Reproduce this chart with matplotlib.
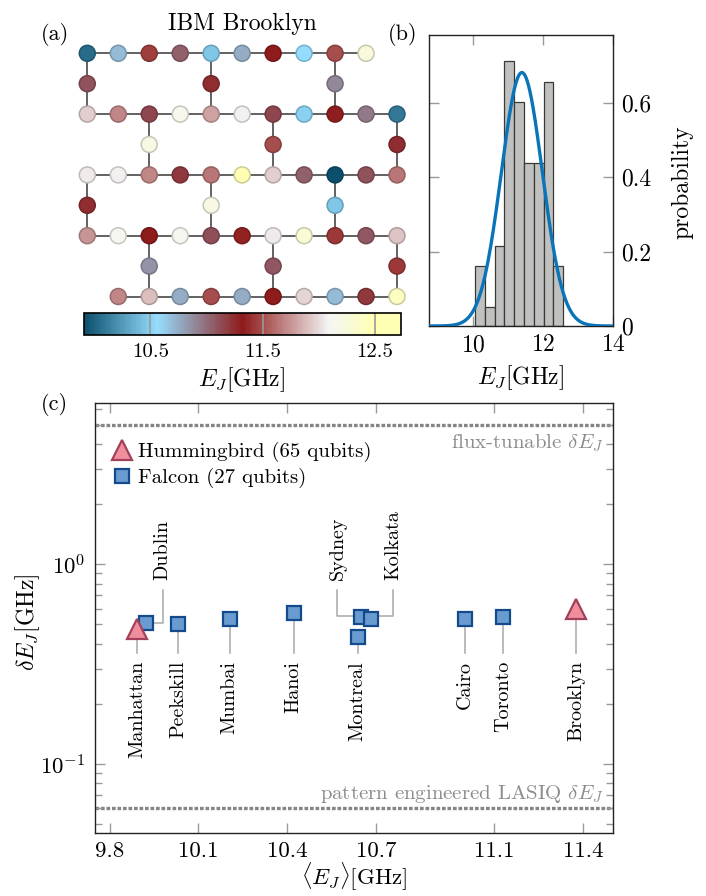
import numpy as np
import matplotlib
matplotlib.use('Agg')
import matplotlib.pyplot as plt
from matplotlib.colors import LinearSegmentedColormap, Normalize, to_rgb
from matplotlib.cm import ScalarMappable
from matplotlib.lines import Line2D
from matplotlib.ticker import FixedLocator, LogLocator, NullFormatter

plt.rcParams['font.family'] = 'serif'
plt.rcParams['font.serif'] = ['cmr10']
plt.rcParams['mathtext.fontset'] = 'cm'
plt.rcParams['axes.formatter.use_mathtext'] = True

# ---- (a) E_J per qubit on IBM Brooklyn [GHz], heavy-hex rows top to bottom
ej_row0 = [10.05, 10.70, 11.45, 11.05, 10.45, 10.75, 11.32, 10.55, 11.50, 12.25]
ej_link1 = [11.10, 11.25, 10.90]
ej_row2 = [11.95, 11.70, 11.15, 12.15, 11.80, 12.07, 11.15, 10.50, 11.30, 10.95, 10.10]
ej_link3 = [12.20, 11.50, 11.25]
ej_row4 = [12.05, 12.07, 11.70, 11.20, 11.65, 12.60, 11.95, 11.05, 9.91, 11.10, 11.65]
ej_link5 = [11.25, 12.20, 10.45]
ej_row6 = [11.75, 12.12, 11.32, 12.12, 11.12, 11.35, 12.05, 12.30, 11.42, 11.08, 11.92]
ej_link7 = [10.85, 11.08, 11.42]
ej_row8 = [11.70, 11.90, 10.75, 11.50, 10.75, 11.32, 11.98, 10.70, 11.20, 12.40]

cbar_ticks = [10.5, 11.5, 12.5]

# ---- (b) histogram of Brooklyn E_J and gaussian fit
bin_edges = [10.06, 10.34, 10.62, 10.90, 11.18, 11.46, 11.74, 12.02, 12.30, 12.58]
bin_prob = [0.161, 0.052, 0.216, 0.713, 0.602, 0.438, 0.438, 0.657, 0.161]
fit_mu = 11.40
fit_sigma = 0.585

# ---- (c) spread of E_J per device
hb_names = ['Manhattan', 'Brooklyn']
hb_ej = [9.893, 11.376]
hb_dej = [0.472, 0.597]

falcon_names = ['Dublin', 'Peekskill', 'Mumbai', 'Hanoi', 'Montreal',
                'Sydney', 'Kolkata', 'Cairo', 'Toronto']
falcon_ej = [9.923, 10.033, 10.206, 10.422, 10.638, 10.648, 10.683, 11.000, 11.130]
falcon_dej = [0.506, 0.503, 0.532, 0.572, 0.431, 0.546, 0.532, 0.534, 0.543]

flux_tunable_dej = 5.0
lasiq_dej = 0.06

W, H = 706, 896
fig = plt.figure(figsize=(W / 100, H / 100), dpi=100)


def px_axes(left, top, right, bottom):
    # axes placed in pixel coordinates of the final image
    return fig.add_axes([left / W, 1 - bottom / H, (right - left) / W, (bottom - top) / H])


def px_text(x, y, s, **kw):
    fig.text(x / W, 1 - y / H, s, **kw)


def gray_ticks(ax, size):
    ax.tick_params(which='both', direction='in', top=True, right=True,
                   color='#9a9a9a', width=1.0, labelsize=size)
    ax.tick_params(which='major', length=7.5)
    ax.tick_params(which='minor', length=5)
    for sp in ax.spines.values():
        sp.set_linewidth(1.0)
        sp.set_color('#222222')


# colormap used for the qubit map
cmap = LinearSegmentedColormap.from_list('ej', [
    (0.000, '#0b4f6c'),
    (0.230, '#96deff'),
    (0.500, '#8e1a1a'),
    (0.775, '#f5f5f5'),
    (0.915, '#ffffb4'),
    (1.000, '#ffffb4'),
])
norm = Normalize(vmin=9.91, vmax=12.73)

# ================= panel (a)
ax_a = px_axes(71.8, 38.1, 412.5, 311.7)
ax_a.set_xlim(-0.5, 10.5)
ax_a.set_ylim(8.5, -0.5)
ax_a.axis('off')

rows = {0: (0, ej_row0), 2: (0, ej_row2), 4: (0, ej_row4), 6: (0, ej_row6), 8: (1, ej_row8)}
links = {1: ([0, 4, 8], ej_link1), 3: ([2, 6, 10], ej_link3),
         5: ([0, 4, 8], ej_link5), 7: ([2, 6, 10], ej_link7)}

xs, ys, vals = [], [], []
for r, (start, v) in rows.items():
    cols = np.arange(start, start + len(v))
    ax_a.plot([cols[0], cols[-1]], [r, r], color='#555555', lw=1.3, zorder=1)
    xs += list(cols)
    ys += [r] * len(v)
    vals += v
for r, (cols, v) in links.items():
    for c in cols:
        ax_a.plot([c, c], [r - 1, r + 1], color='#555555', lw=1.3, zorder=1)
    xs += cols
    ys += [r] * len(v)
    vals += v

face = [cmap(norm(v)) for v in vals]
edge = [tuple(0.8 * np.array(to_rgb(f))) for f in face]
ax_a.scatter(xs, ys, s=132, c=face, edgecolors=edge, linewidths=1.1, zorder=2)

px_text(242, 30, 'IBM Brooklyn', ha='center', va='baseline', fontsize=17)
px_text(41, 40, '(a)', ha='left', va='baseline', fontsize=16)

# colorbar
cax = px_axes(84, 312.7, 400.7, 335)
cb = fig.colorbar(ScalarMappable(norm=norm, cmap=cmap), cax=cax, orientation='horizontal')
cb.set_ticks(cbar_ticks)
cb.set_ticklabels(['%.1f' % t for t in cbar_ticks])
cb.outline.set_linewidth(1.2)
cax.tick_params(direction='in', length=16, color='#9a9a9a', width=1.2, labelsize=15, pad=6)
px_text(242, 380, r'$E_J[\mathrm{GHz}]$', ha='center', va='center', fontsize=17)

# ================= panel (b)
ax_b = px_axes(429, 35, 613, 326)
ax_b.bar(bin_edges[:-1], bin_prob, width=np.diff(bin_edges), align='edge',
         color='#c0c0c0', edgecolor='#3a3a30', linewidth=0.9, zorder=2)
xg = np.linspace(8.75, 14, 400)
yg = np.exp(-(xg - fit_mu) ** 2 / (2 * fit_sigma ** 2)) / (fit_sigma * np.sqrt(2 * np.pi))
ax_b.plot(xg, yg, color='#0a74b9', lw=2.4, zorder=3)
ax_b.set_xlim(8.75, 14)
ax_b.set_ylim(0, 0.783)
ax_b.set_xticks([10, 12, 14])
ax_b.set_yticks([0, 0.2, 0.4, 0.6])
ax_b.set_yticklabels(['0', '0.2', '0.4', '0.6'])
gray_ticks(ax_b, 17)
ax_b.tick_params(labelleft=False, labelright=True, pad=6)
px_text(682, 182, 'probability', rotation=90, ha='center', va='center', fontsize=17)
px_text(521, 378, r'$E_J[\mathrm{GHz}]$', ha='center', va='center', fontsize=17)
px_text(388, 40, '(b)', ha='left', va='baseline', fontsize=16)

# ================= panel (c)
ax_c = px_axes(94.7, 403.3, 612.7, 833.3)
ax_c.set_yscale('log')
ax_c.set_xlim(9.75, 11.5)
ax_c.set_ylim(0.045, 6.4)

dot = (0, (1.1, 0.55))
ax_c.axhline(flux_tunable_dej, color='#858585', lw=2.4, ls=dot, zorder=1)
ax_c.axhline(lasiq_dej, color='#858585', lw=2.4, ls=dot, zorder=1)
ax_c.text(11.47, 4.05, r'flux-tunable $\delta E_J$', color='#8c8c8c',
          ha='right', va='center', fontsize=15)
ax_c.text(11.47, 0.0705, r'pattern engineered LASIQ $\delta E_J$', color='#8c8c8c',
          ha='right', va='center', fontsize=15)

lead = dict(color='#a8a8a8', lw=1.1, zorder=1)
names = hb_names + falcon_names
ejs = hb_ej + falcon_ej
dejs = hb_dej + falcon_dej
# labels placed above the points, with a bent leader
top_x = {'Dublin': 9.980, 'Sydney': 10.570, 'Kolkata': 10.759}
for n, x, y in zip(names, ejs, dejs):
    if n in top_x:
        tx = top_x[n]
        hy = 0.548 if n != 'Dublin' else y
        ax_c.plot([x, tx, tx], [hy, hy, 0.744], **lead)
        ax_c.text(tx, 0.834, n, rotation=90, ha='center', va='bottom', fontsize=14.5)
    else:
        ax_c.plot([x, x], [y, 0.36], **lead)
        ax_c.text(x, 0.328, n, rotation=90, ha='center', va='top', fontsize=14.5)

sq = dict(marker='s', ms=9.6, mfc='#6a9bd0', mec='#124a8c', mew=1.6, ls='none')
tri = dict(marker='^', ms=14, mfc='#ef8f9e', mec='#a3405a', mew=1.6, ls='none')
ax_c.plot(falcon_ej, falcon_dej, zorder=3, **sq)
ax_c.plot(hb_ej, hb_dej, zorder=3, **tri)

handles = [Line2D([], [], **tri), Line2D([], [], **sq)]
ax_c.legend(handles, ['Hummingbird (65 qubits)', 'Falcon (27 qubits)'],
            loc='upper left', bbox_to_anchor=(0.032, 0.91), frameon=False,
            fontsize=15, handlelength=1.0, handletextpad=0.3, labelspacing=0.3,
            borderpad=0, borderaxespad=0)

ax_c.set_xticks([9.8, 10.1, 10.4, 10.7, 11.1, 11.4])
ax_c.set_xticklabels(['9.8', '10.1', '10.4', '10.7', '11.1', '11.4'])
ax_c.yaxis.set_major_locator(FixedLocator([0.1, 1]))
ax_c.yaxis.set_minor_locator(LogLocator(base=10, subs=np.arange(2, 10)))
ax_c.yaxis.set_minor_formatter(NullFormatter())
gray_ticks(ax_c, 16.5)
ax_c.tick_params(axis='x', pad=6)
ax_c.tick_params(axis='y', pad=7)
px_text(28, 622, r'$\delta E_J[\mathrm{GHz}]$', rotation=90, ha='center', va='center', fontsize=17)
px_text(354, 876, r'$\langle E_J\rangle[\mathrm{GHz}]$', ha='center', va='center', fontsize=16.5)
px_text(41, 410, '(c)', ha='left', va='baseline', fontsize=16)

fig.savefig('out.png', dpi=100)
